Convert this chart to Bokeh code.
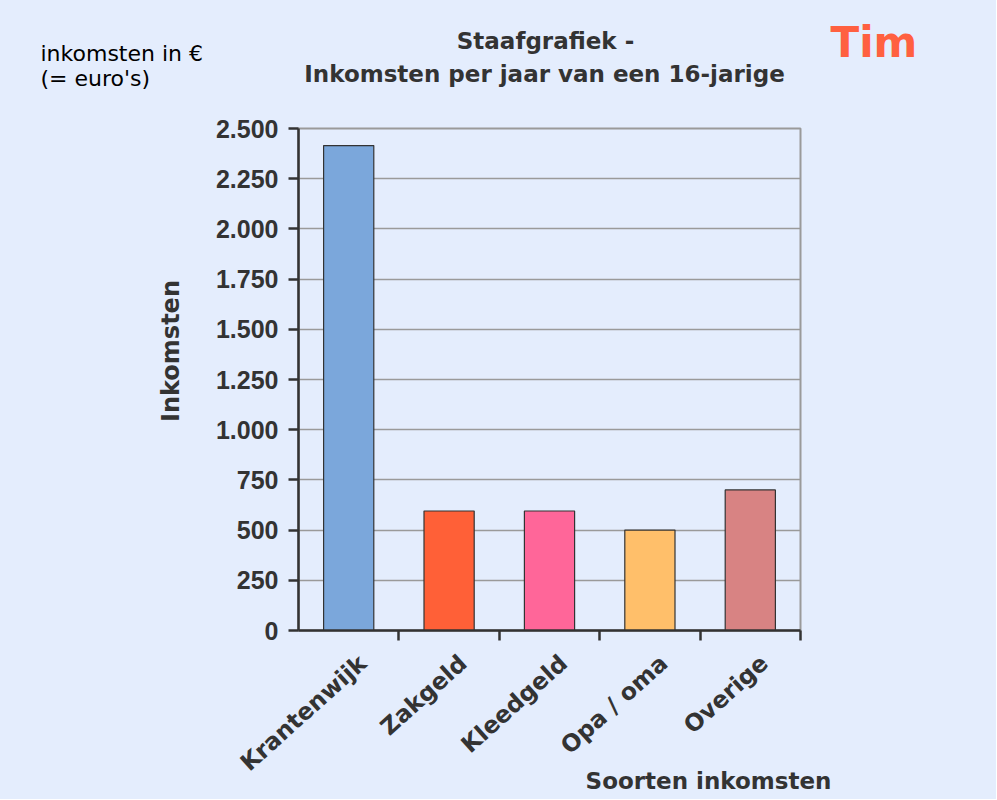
import math
from bokeh.plotting import figure
from bokeh.layouts import column, row
from bokeh.models import Range1d, FixedTicker, ColumnDataSource
from bokeh.core.properties import value
from bokeh.embed import file_html
from bokeh.resources import INLINE

# ---- data ----
categories = ["Krantenwijk", "Zakgeld", "Kleedgeld", "Opa / oma", "Overige"]
values = [2415, 595, 595, 500, 700]
bar_colors = ["#7BA7DB", "#FF6037", "#FF6699", "#FFBF6A", "#D88383"]
y_ticks = [0, 250, 500, 750, 1000, 1250, 1500, 1750, 2000, 2250, 2500]
y_tick_labels = ["0", "250", "500", "750", "1.000", "1.250", "1.500",
                 "1.750", "2.000", "2.250", "2.500"]
title_line1 = "Staafgrafiek -"
title_line2 = "Inkomsten per jaar van een 16-jarige"
name_text = "Tim"
unit_line1 = "inkomsten in \u20ac"
unit_line2 = "(= euro's)"
y_title = "Inkomsten"
x_title = "Soorten inkomsten"

BG = "#E4EDFD"
DARK = "#333333"
BOLD_FONT = "DejaVu Sans"
TICK_FONT = "Liberation Sans"

# ---- layout sizes (pixels) ----
W = 996
TOP_H = 100
LEFT_W = 190
FRAME_LEFT = 298
MAIN_TOP, FRAME, MAIN_BOTTOM = 28, 502, 16
MID_H = MAIN_TOP + FRAME + MAIN_BOTTOM
BOT_H = 799 - TOP_H - MID_H

n = len(categories)
xs = [i + 0.5 for i in range(n)]


def text_fig(width, height, y_top_page, x_range=None):
    """A figure whose frame fills it; y runs downward in page pixels."""
    f = figure(width=width, height=height, min_border=0,
               x_range=x_range if x_range is not None else Range1d(0, width),
               y_range=Range1d(y_top_page + height, y_top_page),
               x_axis_type=None, y_axis_type=None,
               output_backend="svg", toolbar_location=None)
    f.grid.visible = False
    f.outline_line_color = None
    f.background_fill_color = BG
    f.border_fill_color = BG
    return f


def put(f, txt, x, y, size, color=DARK, style="bold", align="left",
        baseline="middle", angle=0.0, font=BOLD_FONT, **kw):
    f.text(x=x if isinstance(x, list) else [x],
           y=y if isinstance(y, list) else [y],
           text=txt if isinstance(txt, list) else [txt],
           text_font=value(font), text_font_style=style,
           text_font_size=value(size), text_color=color,
           text_align=align, text_baseline=baseline, angle=angle, **kw)


# ---- top strip: titles ----
top = text_fig(W, TOP_H, 0)
put(top, title_line1, 545, 40, "23px", align="center")
put(top, title_line2, 544, 73, "23px", align="center")
put(top, name_text, 830, 42, "42px", color="#FF6040")
put(top, unit_line1, 40, 53, "22px", color="#000000", style="normal",
    baseline="alphabetic")
put(top, unit_line2, 40, 78, "22px", color="#000000", style="normal",
    baseline="alphabetic")

# ---- left strip: y axis title ----
left = text_fig(LEFT_W, MID_H, TOP_H)
put(left, y_title, 170, 342, "24px", align="center", angle=math.pi / 2)

# ---- main chart ----
src = ColumnDataSource(dict(x=xs, top=values, color=bar_colors, cat=categories))

p = figure(frame_width=FRAME, frame_height=FRAME,
           x_range=Range1d(0, n), y_range=Range1d(0, 2500),
           output_backend="svg", toolbar_location=None,
           min_border_left=FRAME_LEFT - LEFT_W, min_border_top=MAIN_TOP,
           min_border_right=W - FRAME_LEFT - FRAME, min_border_bottom=MAIN_BOTTOM)
p.background_fill_color = BG
p.border_fill_color = BG
p.outline_line_color = "#9A9A9A"
p.outline_line_width = 2

p.vbar(x="x", top="top", width=0.5, source=src, fill_color="color",
       line_color=DARK, line_width=1.2)

p.yaxis.ticker = FixedTicker(ticks=y_ticks)
p.yaxis.major_label_overrides = {t: l for t, l in zip(y_ticks, y_tick_labels)}
p.yaxis.axis_line_color = DARK
p.yaxis.axis_line_width = 2.5
p.yaxis.major_tick_line_color = DARK
p.yaxis.major_tick_line_width = 2.5
p.yaxis.major_tick_out = 10
p.yaxis.major_tick_in = 0
p.yaxis.minor_tick_line_color = None
p.yaxis.major_label_text_font = TICK_FONT
p.yaxis.major_label_text_font_style = "bold"
p.yaxis.major_label_text_font_size = "25px"
p.yaxis.major_label_text_color = DARK
p.yaxis.major_label_standoff = 10

# x axis: only the boundary tick marks; category names drawn below
p.xaxis.ticker = FixedTicker(ticks=[], minor_ticks=list(range(1, n + 1)))
p.xaxis.axis_line_color = DARK
p.xaxis.axis_line_width = 2.5
p.xaxis.major_tick_line_color = None
p.xaxis.major_tick_out = 0
p.xaxis.major_tick_in = 0
p.xaxis.major_label_text_font_size = "0px"
p.xaxis.major_label_standoff = 0
p.xaxis.minor_tick_line_color = DARK
p.xaxis.minor_tick_line_width = 2.5
p.xaxis.minor_tick_out = 10
p.xaxis.minor_tick_in = 0

p.xgrid.visible = False
p.ygrid.ticker = FixedTicker(ticks=y_ticks)
p.ygrid.grid_line_color = "#9A9A9A"
p.ygrid.grid_line_width = 1.5

# ---- bottom strip: category names (same x scale as the chart) + x title ----
unit_px = FRAME / n
bottom = text_fig(W, BOT_H, TOP_H + MID_H,
                  x_range=Range1d(-FRAME_LEFT / unit_px,
                                  (W - FRAME_LEFT) / unit_px))
bottom.extra_x_ranges = {"px": Range1d(0, W)}
label_x = [x + 0.14 for x in xs]
put(bottom, categories, label_x, [659] * n, "23.5px", align="right",
    angle=math.radians(42))
put(bottom, x_title, 708, 780, "23px", align="center", x_range_name="px")

layout = column(top, row(left, p, spacing=0), bottom, spacing=0,
                background=BG)

open("out.html", "w").write(file_html(layout, INLINE))
